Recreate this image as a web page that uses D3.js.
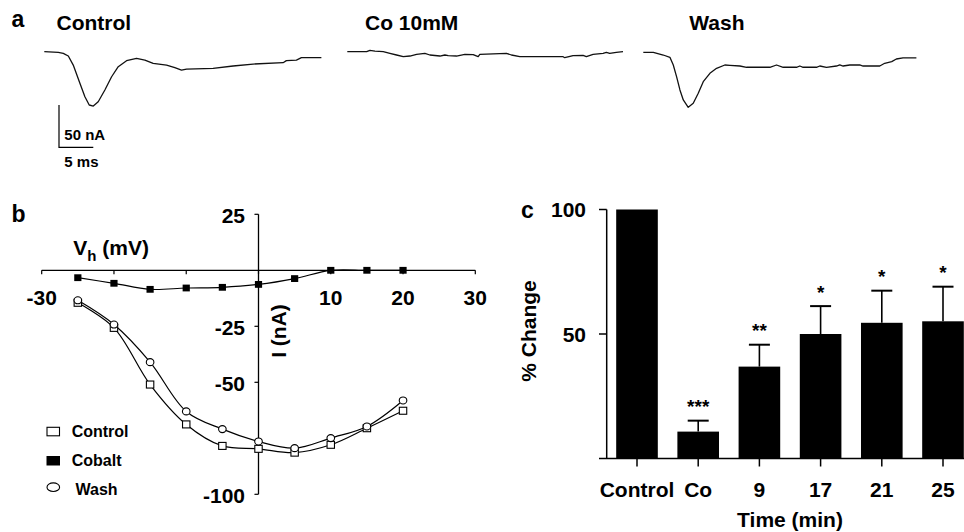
<!DOCTYPE html>
<html><head><meta charset="utf-8">
<script src="https://cdn.jsdelivr.net/npm/d3@7"></script>
<style>
html,body{margin:0;padding:0;background:#fff;}
svg{display:block;}
text{font-family:'Liberation Sans',Arial,Helvetica,sans-serif;font-weight:bold;fill:#000;}
</style>
</head><body>
<svg id="fig" width="964" height="532"></svg>
<script>
// ---------- Panel a: current traces (time in ms, current in nA) ----------
const traceTitles = ["Control", "Co 10mM", "Wash"];
const controlTime = [0,2.04,2.77,3.50,4.22,5.19,5.92,6.55,7.14,7.86,8.83,9.81,10.78,11.99,13.45,14.66,15.87,17.82,19.03,20.0,20.73,24.61,27.52,30.44,34.81,35.29,36.75,37.48,40.39];
const controlCurrent = [0,-0.8,-2.0,-5.1,-15.8,-37.4,-53.2,-63.0,-64.2,-59.1,-45.3,-29.6,-17.7,-10.6,-7.9,-9.9,-13.8,-15.8,-18.9,-21.7,-20.5,-19.7,-16.9,-14.6,-13.0,-10.6,-9.9,-7.1,-7.1];
const cobaltTime = [0,2.82,3.30,4.03,5.24,6.21,7.18,8.16,9.13,10.10,11.31,12.04,13.50,14.22,14.71,15.92,17.14,18.35,19.08,19.32,23.20,23.93,25.15,31.46,31.70,32.91,34.37,34.85,35.83,37.28,37.77,38.25,39.22,40.19];
const cobaltCurrent = [0,0,1.6,0.8,0,-2.0,-3.9,-5.9,-5.1,-3.2,-2.0,-3.9,-5.1,-3.9,-4.7,-5.1,-3.2,-3.5,-5.9,-3.2,-2.0,-3.9,-5.9,-5.9,-7.1,-4.7,-4.3,-5.9,-3.2,-2.0,-0.8,-2.0,-0.8,0];
const washTime = [0,1.46,2.91,3.88,4.37,4.85,5.34,5.83,6.55,7.28,8.01,8.74,9.71,10.68,11.89,12.62,14.08,15.05,18.45,19.42,20.39,22.33,22.82,23.30,25.24,25.73,26.70,28.16,28.64,29.13,30.10,31.55,32.04,34.47,35.19,36.21,36.89,37.86,39.81];
const washCurrent = [0,0,-3.2,-5.9,-15.0,-28.8,-44.5,-56.3,-65.0,-60.3,-48.5,-34.7,-24.8,-18.9,-15.0,-15.4,-16.2,-17.7,-17.7,-15.0,-17.7,-17.7,-16.2,-17.7,-17.7,-16.2,-17.7,-16.2,-15.0,-16.2,-15.0,-15.0,-16.2,-16.2,-13.0,-11.0,-7.9,-6.7,-6.7];
const scaleBarTime = 5;      // ms
const scaleBarCurrent = 50;  // nA

// ---------- Panel b: I-V relationship ----------
const voltages = [-25,-20,-15,-10,-5,0,5,10,15,20];
const ivControl = [-14.5,-25.7,-51,-68.8,-78.4,-79.7,-81.4,-77.9,-70.5,-62.7];
const ivCobalt  = [-3.3,-5.8,-8.5,-7.9,-7.6,-6.3,-3.7,0,0,0];
const ivWash    = [-13.4,-24.2,-41,-63,-70.9,-76.4,-79.4,-74.9,-69.7,-58.1];
const ivXTicks = [-30,-20,-10,0,10,20,30];
const ivXTickLabels = [-30,10,20,30];
const ivYTicks = [25,-25,-50,-100];
const legendLabels = ["Control","Cobalt","Wash"];

// ---------- Panel c: % change bar chart ----------
const barCategories = ["Control","Co","9","17","21","25"];
const barMeans = [100,10.8,36.9,50,54.5,55.1];
const barSEM = [0,4.4,8.8,11.2,12.9,13.9];
const barStars = ["","***","**","*","*","*"];
const barYTicks = [100,50];

const svg = d3.select("#fig");

// ================= Panel a =================
svg.append("text").attr("x",11.5).attr("y",26.5).attr("font-size",23).text("a");
const tScale = d3.scaleLinear().domain([0,5]).range([0,34.3]);
const iScale = d3.scaleLinear().domain([0,-50]).range([0,42.3]);
const traceLine = d3.line().x(d=>tScale(d[0])).y(d=>iScale(d[1]));
const traces = [
  {title:traceTitles[0], t:controlTime, i:controlCurrent, ox:44.3, oy:51.7, tx:56.5, ty:29.5},
  {title:traceTitles[1], t:cobaltTime,  i:cobaltCurrent,  ox:347.3, oy:51.7, tx:365, ty:30},
  {title:traceTitles[2], t:washTime,    i:washCurrent,    ox:643.3, oy:52.3, tx:689.3, ty:30}
];
traces.forEach(tr=>{
  svg.append("text").attr("x",tr.tx).attr("y",tr.ty).attr("font-size",21).text(tr.title);
  svg.append("g").attr("transform",`translate(${tr.ox},${tr.oy})`)
    .append("path").datum(tr.t.map((v,k)=>[v,tr.i[k]]))
    .attr("d",traceLine).attr("fill","none").attr("stroke","#111").attr("stroke-width",1.3)
    .attr("stroke-linejoin","round");
});
// scale bar
const sb = svg.append("g").attr("transform","translate(59,147.3)");
sb.append("path").attr("d",`M0,${iScale(-scaleBarCurrent)*-1}V0H${tScale(scaleBarTime)}`)
  .attr("fill","none").attr("stroke","#000").attr("stroke-width",1.2);
svg.append("text").attr("x",64.3).attr("y",140).attr("font-size",15).text(scaleBarCurrent+" nA");
svg.append("text").attr("x",64.3).attr("y",166.5).attr("font-size",15).text(scaleBarTime+" ms");

// ================= Panel b =================
svg.append("text").attr("x",11.5).attr("y",221.5).attr("font-size",23).text("b");
const xb = d3.scaleLinear().domain([-30,30]).range([41.7,475.3]);
const yb = d3.scaleLinear().domain([25,-100]).range([214.3,494.3]);
const gb = svg.append("g");
// x axis
gb.append("line").attr("x1",xb(-30)).attr("x2",xb(30)).attr("y1",yb(0)).attr("y2",yb(0))
  .attr("stroke","#000").attr("stroke-width",1.3);
gb.selectAll(".xt").data(ivXTicks).join("line")
  .attr("x1",d=>xb(d)).attr("x2",d=>xb(d)).attr("y1",yb(0)).attr("y2",yb(0)+4)
  .attr("stroke","#000").attr("stroke-width",1.2);
gb.selectAll(".xtl").data(ivXTickLabels).join("text")
  .attr("x",d=>xb(d)).attr("y",305).attr("text-anchor","middle").attr("font-size",21).text(d=>d);
// y axis
gb.append("line").attr("x1",xb(0)).attr("x2",xb(0)).attr("y1",yb(25)).attr("y2",yb(-100))
  .attr("stroke","#000").attr("stroke-width",1.3);
gb.selectAll(".yt").data(ivYTicks).join("line")
  .attr("x1",xb(0)-4).attr("x2",xb(0)).attr("y1",d=>yb(d)).attr("y2",d=>yb(d))
  .attr("stroke","#000").attr("stroke-width",1.2);
gb.selectAll(".ytl").data(ivYTicks).join("text")
  .attr("x",245).attr("y",d=>yb(d)).attr("dy","0.4em").attr("text-anchor","end").attr("font-size",21).text(d=>d);
// axis labels
const vh = gb.append("text").attr("x",73.3).attr("y",255).attr("font-size",21);
vh.append("tspan").text("V");
vh.append("tspan").attr("font-size",15).attr("dy",6).text("h");
vh.append("tspan").attr("dy",-6).text(" (mV)");
gb.append("text").attr("transform","translate(285.5,331) rotate(-90)").attr("text-anchor","middle")
  .attr("font-size",21).text("I (nA)");
// curves
const ivLine = d3.line().x(d=>xb(d[0])).y(d=>yb(d[1])).curve(d3.curveCatmullRom.alpha(0.5));
[ivCobalt, ivControl, ivWash].forEach(s=>{
  gb.append("path").datum(voltages.map((v,k)=>[v,s[k]])).attr("d",ivLine)
    .attr("fill","none").attr("stroke","#000").attr("stroke-width",1.2);
});
// markers
gb.selectAll(".mco").data(voltages.map((v,k)=>[v,ivCobalt[k]])).join("rect")
  .attr("x",d=>xb(d[0])-3.6).attr("y",d=>yb(d[1])-3.4).attr("width",7.2).attr("height",6.8).attr("fill","#000");
gb.selectAll(".mc").data(voltages.map((v,k)=>[v,ivControl[k]])).join("rect")
  .attr("x",d=>xb(d[0])-3.7).attr("y",d=>yb(d[1])-3.5).attr("width",7.4).attr("height",7)
  .attr("fill","#fff").attr("stroke","#000").attr("stroke-width",1.1);
gb.selectAll(".mw").data(voltages.map((v,k)=>[v,ivWash[k]])).join("ellipse")
  .attr("cx",d=>xb(d[0])).attr("cy",d=>yb(d[1])).attr("rx",3.8).attr("ry",3.5)
  .attr("fill","#fff").attr("stroke","#000").attr("stroke-width",1.1);
// legend
const lg = svg.append("g");
lg.append("rect").attr("x",47).attr("y",427.3).attr("width",12.5).attr("height",8.5)
  .attr("fill","#fff").attr("stroke","#000").attr("stroke-width",1.1);
lg.append("rect").attr("x",46.5).attr("y",456).attr("width",13.5).attr("height",9.5).attr("fill","#000");
lg.append("ellipse").attr("cx",53.3).attr("cy",487.2).attr("rx",6.3).attr("ry",4.3)
  .attr("fill","#fff").attr("stroke","#000").attr("stroke-width",1.1);
lg.append("text").attr("x",71.7).attr("y",436.5).attr("font-size",16).text(legendLabels[0]);
lg.append("text").attr("x",71.7).attr("y",465.5).attr("font-size",16).text(legendLabels[1]);
lg.append("text").attr("x",75.5).attr("y",494.5).attr("font-size",16).text(legendLabels[2]);

// ================= Panel c =================
svg.append("text").attr("x",521).attr("y",217.5).attr("font-size",23).text("c");
const xc = d3.scaleBand().domain(barCategories).range([606.4,973.6]).paddingInner(0.32).paddingOuter(0.16);
const yc = d3.scaleLinear().domain([0,100]).range([458.5,209.5]);
const gc = svg.append("g");
gc.selectAll(".bar").data(barCategories).join("rect")
  .attr("x",d=>xc(d)).attr("width",xc.bandwidth())
  .attr("y",(d,k)=>yc(barMeans[k])).attr("height",(d,k)=>yc(0)-yc(barMeans[k])).attr("fill","#000");
// error bars
barCategories.forEach((c,k)=>{
  if(barSEM[k]<=0) return;
  const cx = xc(c)+xc.bandwidth()/2;
  gc.append("line").attr("x1",cx).attr("x2",cx).attr("y1",yc(barMeans[k])).attr("y2",yc(barMeans[k]+barSEM[k]))
    .attr("stroke","#000").attr("stroke-width",1.6);
  gc.append("line").attr("x1",cx-10.5).attr("x2",cx+10.5).attr("y1",yc(barMeans[k]+barSEM[k])).attr("y2",yc(barMeans[k]+barSEM[k]))
    .attr("stroke","#000").attr("stroke-width",2);
  gc.append("text").attr("x",cx).attr("y",yc(barMeans[k]+barSEM[k])-7.5).attr("text-anchor","middle")
    .attr("font-size",19).text(barStars[k]);
});
// axes
gc.append("line").attr("x1",599).attr("x2",964).attr("y1",yc(0)).attr("y2",yc(0)).attr("stroke","#000").attr("stroke-width",1.5);
gc.append("line").attr("x1",606.7).attr("x2",606.7).attr("y1",yc(100)).attr("y2",yc(0)).attr("stroke","#000").attr("stroke-width",1.5);
gc.selectAll(".yct").data(barYTicks).join("line")
  .attr("x1",599).attr("x2",606.7).attr("y1",d=>yc(d)).attr("y2",d=>yc(d)).attr("stroke","#000").attr("stroke-width",1.5);
gc.selectAll(".yctl").data(barYTicks).join("text")
  .attr("x",586).attr("y",d=>yc(d)).attr("dy","0.36em").attr("text-anchor","end").attr("font-size",21).text(d=>d);
gc.selectAll(".xct").data(barCategories).join("line")
  .attr("x1",d=>xc(d)+xc.bandwidth()/2).attr("x2",d=>xc(d)+xc.bandwidth()/2)
  .attr("y1",yc(0)).attr("y2",yc(0)+8).attr("stroke","#000").attr("stroke-width",1.5);
gc.selectAll(".xctl").data(barCategories).join("text")
  .attr("x",d=>xc(d)+xc.bandwidth()/2).attr("y",496.5).attr("text-anchor","middle").attr("font-size",21).text(d=>d);
gc.append("text").attr("x",790).attr("y",526.5).attr("text-anchor","middle").attr("font-size",21).text("Time (min)");
gc.append("text").attr("transform","translate(535.5,331) rotate(-90)").attr("text-anchor","middle")
  .attr("font-size",21).text("% Change");
</script>
</body></html>
